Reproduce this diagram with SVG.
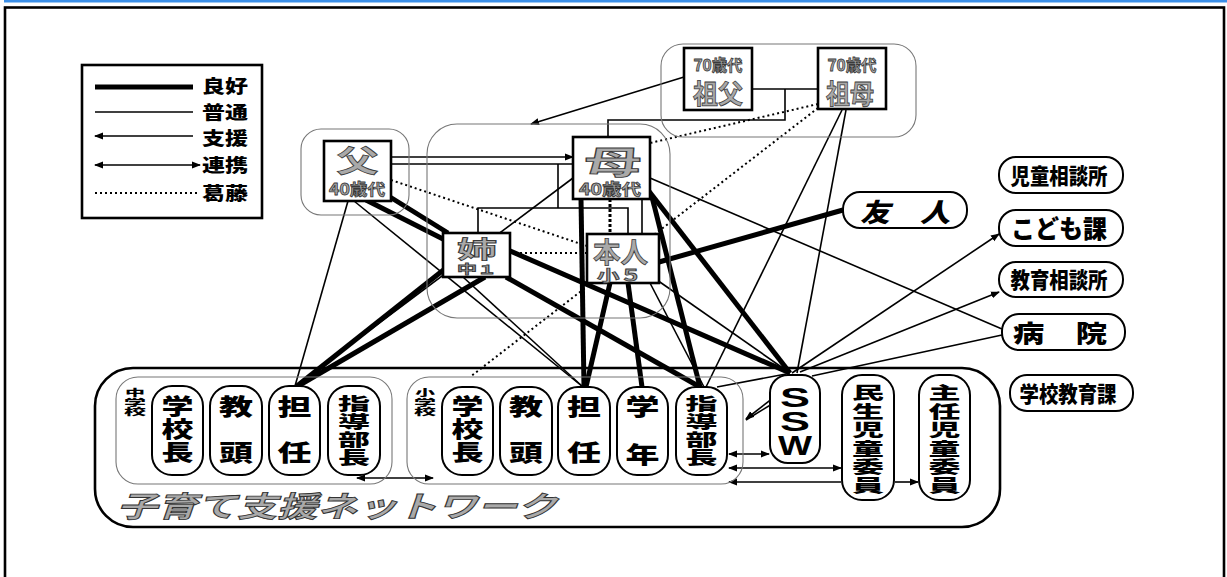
<svg xmlns="http://www.w3.org/2000/svg" width="1227" height="577" viewBox="0 0 1227 577">
<defs>
<marker id="ar" markerWidth="9" markerHeight="8" refX="8" refY="4" orient="auto-start-reverse" markerUnits="userSpaceOnUse"><path d="M0,0.5 L9,4 L0,7.5 z" fill="#000"/></marker>
<style>
.fam{fill:#fff;stroke:#000;stroke-width:2.6}
.grp{fill:none;stroke:#777;stroke-width:1.1}
.pill{fill:#fff;stroke:#000;stroke-width:2}
.net{fill:none;stroke:#000;stroke-width:2.6}
.g{font-family:"Noto Sans CJK JP","Noto Sans CJK SC",sans-serif;font-weight:700;fill:#a9a9a9;stroke:#3a3a3a;stroke-width:0.8;text-anchor:middle}
.b{font-family:"Noto Sans CJK JP","Noto Sans CJK SC",sans-serif;font-weight:900;fill:#000;text-anchor:middle}
.s{font-family:"Liberation Sans",sans-serif;font-weight:700;fill:#000;text-anchor:middle;font-size:28px}
.l{font-family:"Noto Sans CJK JP","Noto Sans CJK SC",sans-serif;font-weight:900;fill:#000;font-size:18px}
.tk{stroke:#000;stroke-width:5;fill:none}
.tn{stroke:#000;stroke-width:1.6;fill:none}
.dt{stroke:#000;stroke-width:2;stroke-dasharray:2 3;fill:none}
.ah{marker-end:url(#ar)}
.as{marker-start:url(#ar)}
</style>
</defs>
<rect x="4" y="0" width="1223" height="2.5" fill="#3b8fe8"/>
<rect x="5" y="7.5" width="1219" height="620" fill="none" stroke="#000" stroke-width="2.6"/>

<g id="legend">
<rect x="82" y="65" width="180" height="153" fill="#fff" stroke="#000" stroke-width="2.6"/>
<line x1="95" y1="87" x2="193" y2="87" class="tk"/>
<line x1="95" y1="112" x2="193" y2="112" class="tn"/>
<line x1="95" y1="136" x2="193" y2="136" class="tn as"/>
<line x1="95" y1="165" x2="200" y2="165" class="tn as ah"/>
<line x1="95" y1="193" x2="200" y2="193" class="dt"/>
<text class="l" x="202" y="93" textLength="46" lengthAdjust="spacingAndGlyphs">良好</text>
<text class="l" x="202" y="119" textLength="46" lengthAdjust="spacingAndGlyphs">普通</text>
<text class="l" x="202" y="145" textLength="46" lengthAdjust="spacingAndGlyphs">支援</text>
<text class="l" x="202" y="172" textLength="46" lengthAdjust="spacingAndGlyphs">連携</text>
<text class="l" x="202" y="200" textLength="46" lengthAdjust="spacingAndGlyphs">葛藤</text>
</g>

<g id="connectors">
<line x1="391" y1="157" x2="573" y2="157" class="tn ah"/>
<line x1="391" y1="164" x2="573" y2="164" class="tn"/>
<polyline points="558,164 558,208" class="tn"/>
<polyline points="478,232 478,208 628,208 628,234" class="tn"/>
<line x1="642" y1="199" x2="642" y2="234" class="tn"/>
<line x1="610" y1="199" x2="610" y2="234" stroke="#000" stroke-width="3" stroke-dasharray="3 2"/>
<polyline points="752,89 818,89" class="tn"/>
<polyline points="785,89 785,120 608,120 608,137" class="tn"/>
<line x1="684" y1="77" x2="531" y2="124" class="tn ah"/>
<line x1="391" y1="180" x2="587" y2="246" class="dt"/>
<line x1="510" y1="253" x2="587" y2="253" class="dt"/>
<line x1="818" y1="104" x2="650" y2="143" class="dt"/>
<line x1="818" y1="108" x2="470" y2="377" class="dt"/>
<line x1="348" y1="201" x2="295" y2="386" class="tn"/>
<line x1="354" y1="201" x2="583" y2="387" class="tn"/>
<line x1="366" y1="200" x2="445" y2="240" class="tk"/>
<line x1="390" y1="197" x2="448" y2="233" class="tk"/>
<line x1="573" y1="178" x2="295" y2="386" class="tn"/>
<line x1="581" y1="199" x2="584" y2="387" class="tk"/>
<line x1="652" y1="197" x2="700" y2="387" class="tk"/>
<line x1="648" y1="190" x2="790" y2="373" class="tk"/>
<line x1="650" y1="178" x2="1002" y2="329" class="tn"/>
<line x1="446" y1="268" x2="297" y2="386" class="tk"/>
<line x1="485" y1="277" x2="298" y2="386" class="tk"/>
<line x1="463" y1="277" x2="583" y2="387" class="tn"/>
<line x1="508" y1="250" x2="790" y2="373" class="tk"/>
<line x1="506" y1="277" x2="700" y2="387" class="tk"/>
<line x1="610" y1="283" x2="586" y2="387" class="tk"/>
<line x1="628" y1="283" x2="642" y2="387" class="tk"/>
<line x1="650" y1="283" x2="704" y2="387" class="tn"/>
<line x1="657" y1="280" x2="790" y2="373" class="tn"/>
<line x1="659" y1="262" x2="843" y2="210" class="tk"/>
<line x1="842" y1="110" x2="706" y2="387" class="tn"/>
<line x1="846" y1="110" x2="797" y2="373" class="tn"/>
<line x1="717" y1="387" x2="786" y2="374" class="tn"/>
<line x1="792" y1="373" x2="999" y2="234" class="tn ah"/>
<line x1="800" y1="372" x2="999" y2="292" class="tn ah"/>
<line x1="812" y1="376" x2="1002" y2="335" class="tn"/>
<line x1="786" y1="388" x2="746" y2="419" class="tn ah"/>
<line x1="772" y1="404" x2="746" y2="420" class="tn"/>
<line x1="729" y1="454" x2="769" y2="454" class="tn as ah"/>
<line x1="729" y1="468" x2="841" y2="468" class="tn as ah"/>
<line x1="841" y1="482" x2="729" y2="482" class="tn ah"/>
<line x1="895" y1="482" x2="918" y2="482" class="tn ah"/>
<line x1="357" y1="478" x2="433" y2="478" class="tn as ah"/>
</g>

<g id="grp-grandparents"><rect x="661" y="44" width="255" height="93" rx="22" class="grp"/></g>
<g id="grp-father"><rect x="301" y="129" width="108" height="86" rx="20" class="grp"/></g>
<g id="grp-family"><rect x="427" y="124" width="243" height="194" rx="30" class="grp"/></g>

<g id="grandfather"><rect x="684" y="48" width="68" height="62" class="fam"/>
<text class="g" x="718" y="71" font-size="16" textLength="49" lengthAdjust="spacingAndGlyphs">70歳代</text>
<text class="g" x="718" y="104" font-size="27" textLength="50" lengthAdjust="spacingAndGlyphs">祖父</text></g>
<g id="grandmother"><rect x="818" y="48" width="68" height="61" class="fam"/>
<text class="g" x="852" y="71" font-size="16" textLength="49" lengthAdjust="spacingAndGlyphs">70歳代</text>
<text class="g" x="850" y="104" font-size="27" textLength="48" lengthAdjust="spacingAndGlyphs">祖母</text></g>
<g id="father"><rect x="324" y="141" width="67" height="60" class="fam"/>
<text class="g" x="357.5" y="172" font-size="31" textLength="42" lengthAdjust="spacingAndGlyphs">父</text>
<text class="g" x="357" y="195" font-size="16" textLength="56" lengthAdjust="spacingAndGlyphs">40歳代</text></g>
<g id="mother"><rect x="573" y="137" width="77" height="62" class="fam"/>
<text class="g" x="613" y="174" font-size="32" textLength="57" lengthAdjust="spacingAndGlyphs">母</text>
<text class="g" x="610" y="195" font-size="16" textLength="62" lengthAdjust="spacingAndGlyphs">40歳代</text></g>
<g id="sister"><rect x="443" y="233" width="67" height="44" class="fam"/>
<text class="g" x="477" y="258" font-size="24" textLength="40" lengthAdjust="spacingAndGlyphs">姉</text>
<text class="g" x="477" y="274" font-size="12" textLength="40" lengthAdjust="spacingAndGlyphs">中１</text></g>
<g id="self"><rect x="587" y="234" width="72" height="49" class="fam"/>
<text class="g" x="620.5" y="263" font-size="28" textLength="55" lengthAdjust="spacingAndGlyphs">本人</text>
<text class="g" x="619.5" y="281" font-size="15" textLength="45" lengthAdjust="spacingAndGlyphs">小５</text></g>

<g id="friend"><rect x="843" y="192" width="124" height="36" rx="17" class="pill"/>
<text class="b" x="905" y="222" font-size="26" font-style="italic" textLength="90" lengthAdjust="spacingAndGlyphs">友　人</text></g>
<g id="jidou-soudanjo"><rect x="999" y="157" width="124" height="36" rx="17" class="pill"/>
<text class="b" x="1059" y="184" font-size="22" textLength="97" lengthAdjust="spacingAndGlyphs">児童相談所</text></g>
<g id="kodomo-ka"><rect x="999" y="210" width="124" height="36" rx="17" class="pill"/>
<text class="b" x="1059" y="238" font-size="25" textLength="96" lengthAdjust="spacingAndGlyphs">こども課</text></g>
<g id="kyouiku-soudanjo"><rect x="999" y="262" width="124" height="35" rx="17" class="pill"/>
<text class="b" x="1059" y="288" font-size="22" textLength="97" lengthAdjust="spacingAndGlyphs">教育相談所</text></g>
<g id="byouin"><rect x="1002" y="314" width="123" height="36" rx="17" class="pill"/>
<text class="b" x="1060" y="342" font-size="24" textLength="94" lengthAdjust="spacingAndGlyphs">病　院</text></g>
<g id="gakkou-kyouiku-ka"><rect x="1010" y="375" width="123" height="36" rx="17" class="pill"/>
<text class="b" x="1068" y="402" font-size="22" textLength="97" lengthAdjust="spacingAndGlyphs">学校教育課</text></g>

<g id="network"><rect x="95" y="368" width="905" height="159" rx="38" class="net"/>
<text x="337" y="517" font-family="Noto Sans CJK JP, sans-serif" font-weight="700" font-style="italic" font-size="29" fill="#a9a9a9" stroke="#333" stroke-width="0.9" text-anchor="middle" textLength="440" lengthAdjust="spacingAndGlyphs">子育て支援ネットワーク</text></g>

<g id="jhs"><rect x="116" y="377" width="276" height="107" rx="22" class="grp"/>
<text class="b" x="135" y="396" font-size="9" textLength="20" lengthAdjust="spacingAndGlyphs">中</text>
<text class="b" x="135" y="405.5" font-size="9" textLength="22" lengthAdjust="spacingAndGlyphs">学</text>
<text class="b" x="135" y="415" font-size="9" textLength="22" lengthAdjust="spacingAndGlyphs">校</text></g>
<g id="jhs-principal"><rect x="152" y="386" width="51" height="89" rx="20" class="pill"/>
<text class="b" x="177.5" y="414" font-size="22" textLength="32" lengthAdjust="spacingAndGlyphs">学</text>
<text class="b" x="177.5" y="437" font-size="22" textLength="32" lengthAdjust="spacingAndGlyphs">校</text>
<text class="b" x="177.5" y="460" font-size="22" textLength="32" lengthAdjust="spacingAndGlyphs">長</text></g>
<g id="jhs-vice"><rect x="210" y="386" width="52" height="89" rx="20" class="pill"/>
<text class="b" x="236" y="415" font-size="23" textLength="34" lengthAdjust="spacingAndGlyphs">教</text>
<text class="b" x="236" y="461" font-size="23" textLength="34" lengthAdjust="spacingAndGlyphs">頭</text></g>
<g id="jhs-homeroom"><rect x="269" y="386" width="51" height="89" rx="20" class="pill"/>
<text class="b" x="294.5" y="415" font-size="23" textLength="34" lengthAdjust="spacingAndGlyphs">担</text>
<text class="b" x="294.5" y="461" font-size="23" textLength="34" lengthAdjust="spacingAndGlyphs">任</text></g>
<g id="jhs-guidance"><rect x="328" y="386" width="52" height="89" rx="20" class="pill"/>
<text class="b" x="354" y="410" font-size="17.5" textLength="32" lengthAdjust="spacingAndGlyphs">指</text>
<text class="b" x="354" y="428" font-size="17.5" textLength="32" lengthAdjust="spacingAndGlyphs">導</text>
<text class="b" x="354" y="446" font-size="17.5" textLength="32" lengthAdjust="spacingAndGlyphs">部</text>
<text class="b" x="354" y="464" font-size="17.5" textLength="32" lengthAdjust="spacingAndGlyphs">長</text></g>

<g id="es"><rect x="407" y="377" width="336" height="107" rx="22" class="grp"/>
<text class="b" x="425" y="396" font-size="9" textLength="20" lengthAdjust="spacingAndGlyphs">小</text>
<text class="b" x="425" y="405.5" font-size="9" textLength="22" lengthAdjust="spacingAndGlyphs">学</text>
<text class="b" x="425" y="415" font-size="9" textLength="22" lengthAdjust="spacingAndGlyphs">校</text></g>
<g id="es-principal"><rect x="442" y="387" width="51" height="88" rx="20" class="pill"/>
<text class="b" x="467.5" y="414" font-size="22" textLength="32" lengthAdjust="spacingAndGlyphs">学</text>
<text class="b" x="467.5" y="437" font-size="22" textLength="32" lengthAdjust="spacingAndGlyphs">校</text>
<text class="b" x="467.5" y="460" font-size="22" textLength="32" lengthAdjust="spacingAndGlyphs">長</text></g>
<g id="es-vice"><rect x="500" y="387" width="52" height="88" rx="20" class="pill"/>
<text class="b" x="526" y="415" font-size="23" textLength="34" lengthAdjust="spacingAndGlyphs">教</text>
<text class="b" x="526" y="461" font-size="23" textLength="34" lengthAdjust="spacingAndGlyphs">頭</text></g>
<g id="es-homeroom"><rect x="558" y="387" width="52" height="88" rx="20" class="pill"/>
<text class="b" x="584" y="415" font-size="23" textLength="34" lengthAdjust="spacingAndGlyphs">担</text>
<text class="b" x="584" y="461" font-size="23" textLength="34" lengthAdjust="spacingAndGlyphs">任</text></g>
<g id="es-grade"><rect x="617" y="387" width="51" height="88" rx="20" class="pill"/>
<text class="b" x="642.5" y="415" font-size="23" textLength="34" lengthAdjust="spacingAndGlyphs">学</text>
<text class="b" x="642.5" y="463" font-size="23" textLength="34" lengthAdjust="spacingAndGlyphs">年</text></g>
<g id="es-guidance"><rect x="676" y="387" width="51" height="88" rx="20" class="pill"/>
<text class="b" x="701.5" y="410" font-size="17.5" textLength="32" lengthAdjust="spacingAndGlyphs">指</text>
<text class="b" x="701.5" y="428" font-size="17.5" textLength="32" lengthAdjust="spacingAndGlyphs">導</text>
<text class="b" x="701.5" y="446" font-size="17.5" textLength="32" lengthAdjust="spacingAndGlyphs">部</text>
<text class="b" x="701.5" y="464" font-size="17.5" textLength="32" lengthAdjust="spacingAndGlyphs">長</text></g>

<g id="ssw"><rect x="770" y="375" width="50" height="88" rx="18" class="pill"/>
<text class="s" x="795" y="407" textLength="30" lengthAdjust="spacingAndGlyphs">S</text>
<text class="s" x="795" y="431" textLength="30" lengthAdjust="spacingAndGlyphs">S</text>
<text class="s" x="795" y="455" textLength="34" lengthAdjust="spacingAndGlyphs">W</text></g>
<g id="minsei"><rect x="842" y="375" width="52" height="125" rx="20" class="pill"/>
<text class="b" x="868" y="399" font-size="17.5" textLength="32" lengthAdjust="spacingAndGlyphs">民</text>
<text class="b" x="868" y="417.5" font-size="17.5" textLength="32" lengthAdjust="spacingAndGlyphs">生</text>
<text class="b" x="868" y="436" font-size="17.5" textLength="32" lengthAdjust="spacingAndGlyphs">児</text>
<text class="b" x="868" y="454.5" font-size="17.5" textLength="32" lengthAdjust="spacingAndGlyphs">童</text>
<text class="b" x="868" y="473" font-size="17.5" textLength="32" lengthAdjust="spacingAndGlyphs">委</text>
<text class="b" x="868" y="491.5" font-size="17.5" textLength="32" lengthAdjust="spacingAndGlyphs">員</text></g>
<g id="shunin"><rect x="919" y="375" width="51" height="125" rx="20" class="pill"/>
<text class="b" x="944.5" y="399" font-size="17.5" textLength="32" lengthAdjust="spacingAndGlyphs">主</text>
<text class="b" x="944.5" y="417.5" font-size="17.5" textLength="32" lengthAdjust="spacingAndGlyphs">任</text>
<text class="b" x="944.5" y="436" font-size="17.5" textLength="32" lengthAdjust="spacingAndGlyphs">児</text>
<text class="b" x="944.5" y="454.5" font-size="17.5" textLength="32" lengthAdjust="spacingAndGlyphs">童</text>
<text class="b" x="944.5" y="473" font-size="17.5" textLength="32" lengthAdjust="spacingAndGlyphs">委</text>
<text class="b" x="944.5" y="491.5" font-size="17.5" textLength="32" lengthAdjust="spacingAndGlyphs">員</text></g>
</svg>
